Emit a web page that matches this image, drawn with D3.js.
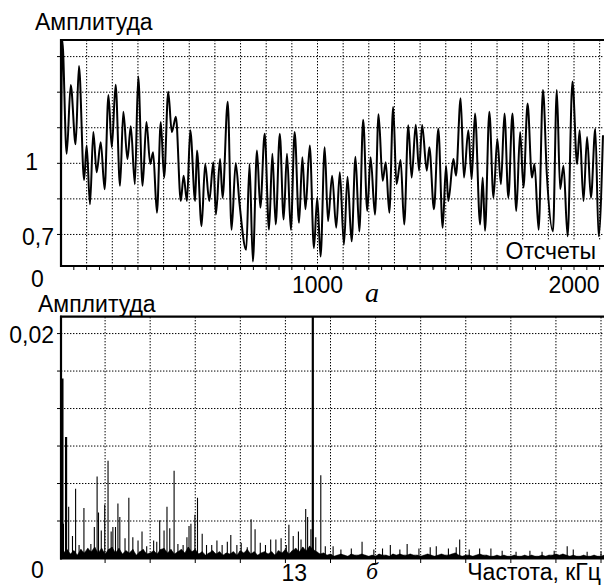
<!DOCTYPE html>
<html>
<head>
<meta charset="utf-8">
<script src="https://cdn.jsdelivr.net/npm/d3@7"></script>
<style>
  body { margin: 0; background: #fff; }
  svg { display: block; }
</style>
</head>
<body>
<svg id="chart" width="604" height="587"></svg>
<script>
// panel (a): signal, read as local peaks / troughs (sample index, amplitude)
const sigSamples = [0, 5, 22, 38, 57, 70, 90, 100, 113, 126, 139, 155, 170, 185, 198, 213, 230, 243, 259, 272,
  288, 301, 318, 333, 348, 359, 374, 389, 402, 418, 432, 448, 467, 478, 491, 504, 523, 530, 548, 562,
  578, 594, 604, 620, 630, 650, 665, 681, 696, 722, 735, 748, 764, 777, 794, 811, 824, 837, 853, 868, 881,
  896, 911, 928, 941, 953, 970, 986, 999, 1012, 1028, 1041, 1057, 1073, 1087, 1103, 1117, 1133, 1148, 1163, 1178,
  1194, 1207, 1224, 1238, 1254, 1266, 1280, 1295, 1308, 1324, 1338, 1354, 1367, 1383, 1396, 1408, 1426, 1436, 1454, 1471,
  1488, 1501, 1510, 1530, 1540, 1558, 1571, 1588, 1601, 1614, 1634, 1644, 1653, 1670, 1686, 1701, 1715, 1729, 1744, 1760,
  1775, 1790, 1803, 1819, 1836, 1846, 1862, 1879, 1894, 1918, 1933, 1946, 1959, 1975, 1994, 2012, 2022, 2037, 2051, 2066,
  2083, 2096, 2113];
const sigValues = [1.04, 1.52, 1.04, 1.33, 1.08, 1.41, 0.93, 1.075, 0.827, 1.132, 0.962, 1.089, 0.891, 1.288, 1.068, 1.331, 0.905, 1.217, 1.018, 1.156,
  0.912, 1.366, 0.905, 1.174, 0.997, 1.047, 0.792, 1.174, 0.94, 1.302, 1.132, 1.196, 0.841, 0.948, 0.841, 1.139, 0.841, 1.054, 0.735, 0.997,
  0.841, 1.004, 0.784, 1.018, 0.855, 1.26, 0.72, 1.0, 0.83, 0.635, 0.997, 0.586, 1.054, 0.813, 1.125, 0.72, 1.04, 0.742, 1.125, 0.763, 1.04,
  0.72, 1.132, 0.749, 1.026, 0.806, 1.075, 0.643, 0.855, 0.607, 1.068, 0.756, 0.948, 0.728, 0.962, 0.657, 0.943, 0.671, 1.028, 0.713, 1.184,
  0.799, 1.026, 0.784, 1.207, 0.926, 1.004, 0.792, 1.238, 0.912, 1.014, 0.742, 1.16, 0.94, 1.163, 0.969, 1.162, 0.969, 1.068, 0.806, 1.146,
  0.728, 0.99, 0.841, 1.018, 0.948, 1.274, 0.94, 1.139, 0.933, 1.21, 0.742, 0.94, 0.716, 1.217, 0.855, 1.103, 0.912, 1.21, 0.855, 1.21,
  0.799, 1.132, 0.898, 1.252, 0.94, 0.997, 0.72, 1.309, 0.955, 0.713, 1.309, 0.891, 0.99, 0.692, 1.345, 0.997, 1.139, 0.841, 1.111, 0.855,
  1.146, 0.692, 1.118];

const sigXLabels = [1000, 2000];
const sigYLabels = [1, 0.7];
const sigYGrid = [0.7, 0.85, 1, 1.15, 1.3, 1.45];

// panel (b): spectrum — distinct lines (kHz, amplitude)
const specFreq = [0.14, 0.35, 0.2, 0.5, 0.72, 0.9, 1.1, 1.38, 1.78, 1.98, 2.14, 2.22, 2.38, 2.58, 2.77, 2.95, 3.05, 3.2, 3.34, 3.45,
  3.75, 3.97, 4.2, 4.5, 4.73, 5.0, 5.4, 5.58, 5.75, 6.0, 6.17, 6.33, 6.58, 6.8, 7.1, 7.32, 7.44, 7.55, 7.78, 7.93,
  8.2, 8.45, 8.75, 9.05, 9.35, 9.65, 9.85, 10.2, 10.45, 10.8, 11.02, 11.25, 11.55, 11.85, 12.15, 12.45, 12.75, 13.05, 13.2, 13.45,
  13.75, 13.9, 14.17, 14.28, 14.47, 14.58, 14.75, 15.04, 15.3, 15.75, 16.2, 16.8, 17.42, 18.1, 18.6, 19.05, 19.6, 20.02, 20.7, 21.35,
  21.7, 22.4, 22.85, 23.05, 23.6, 24.2, 24.85, 25.5, 26.3, 27.1, 27.8, 28.5, 29.25, 29.6, 30.4, 31.2];
const specAmp = [0.016, 0.0108, 0.0031, 0.0046, 0.002, 0.0062, 0.0012, 0.0045, 0.0013, 0.0028, 0.0073, 0.0041, 0.0025, 0.0048, 0.0087, 0.0024, 0.0028, 0.0028, 0.0049, 0.0037,
  0.0018, 0.0054, 0.0019, 0.0016, 0.0024, 0.0011, 0.0016, 0.0015, 0.0034, 0.0025, 0.0046, 0.0027, 0.0078, 0.0013, 0.0012, 0.0019, 0.0029, 0.0031, 0.0039, 0.0054,
  0.0022, 0.0012, 0.0012, 0.0016, 0.0012, 0.0015, 0.0021, 0.0012, 0.0014, 0.001, 0.0035, 0.0026, 0.0014, 0.0012, 0.0017, 0.0017, 0.0018, 0.0012, 0.003, 0.002,
  0.0024, 0.0017, 0.0044, 0.0037, 0.0026, 0.024, 0.0019, 0.0074, 0.0011, 0.0011, 0.0008, 0.0009, 0.0015, 0.0008, 0.0009, 0.0012, 0.0008, 0.0013, 0.0009, 0.001,
  0.0011, 0.0009, 0.001, 0.0017, 0.0008, 0.0009, 0.0009, 0.0007, 0.0006, 0.0007, 0.0006, 0.0007, 0.0011, 0.0008, 0.0006, 0.0006];

// noise floor, one value per 0.2 kHz, in units of 1e-4
const floorStep = 0.2;
const floorE4 = [9, 5, 8, 4, 7, 3, 8, 5, 9, 6,  10, 5, 9, 4, 8, 10, 5, 9, 4, 7,
  5, 8, 3, 6, 8, 4, 5, 7, 4, 8,  9, 5, 8, 4, 6, 8, 5, 10, 6, 8,
  4, 6, 3, 5, 7, 4, 6, 3, 5, 4,  6, 3, 7, 5, 8, 4, 6, 3, 5, 6,
  4, 6, 3, 7, 5, 8, 4, 7, 9, 6,  10, 7, 11, 8, 6, 4, 5, 3, 4, 2,
  3, 4, 3, 2, 4, 3, 3, 4, 3, 2,  3, 2, 4, 3, 3, 2, 4, 3, 4, 3,
  3, 4, 3, 3, 2, 3, 4, 3, 2, 3,  4, 3, 3, 4, 5, 3, 2, 3, 3, 2,
  3, 4, 3, 3, 2, 2, 3, 2, 3, 2,  2, 3, 2, 2, 3, 2, 3, 2, 2, 3,
  2, 3, 3, 4, 3, 4, 3, 2, 3, 2,  2, 3, 2, 2, 3, 2, 2, 3, 2, 2];

const specXLabels = [13];
const specYLabels = [0.02];
const specGridStep = 2.6;   // kHz between vertical grid lines

const svg = d3.select('#chart');
const font = '"Liberation Sans", Arial, sans-serif';
const serif = '"Liberation Serif", "Times New Roman", serif';
const fs = 23;

function dotted(sel) {
  return sel.attr('stroke', '#000').attr('stroke-width', 1).attr('stroke-dasharray', '1.4,1.6');
}

// ---------- panel (a) ----------
const ax = d3.scaleLinear().domain([0, 2200]).range([61, 625.3]);
const ay = d3.scaleLinear().domain([0.567, 1.52]).range([266, 40]);
const a = svg.append('g');

a.append('clipPath').attr('id', 'clipA')
  .append('rect').attr('x', 61).attr('y', 40).attr('width', 560).attr('height', 226);

a.append('g').selectAll('line').data(d3.range(100, 2201, 100)).join('line')
  .attr('x1', d => ax(d)).attr('x2', d => ax(d)).attr('y1', 40).attr('y2', 266)
  .call(dotted);
a.append('g').selectAll('line').data(sigYGrid).join('line')
  .attr('x1', 61).attr('x2', 604).attr('y1', d => ay(d)).attr('y2', d => ay(d))
  .call(dotted);

// minor ticks
a.append('g').selectAll('line').data(d3.range(50, 2201, 50)).join('line')
  .attr('x1', d => ax(d)).attr('x2', d => ax(d)).attr('y1', 266).attr('y2', 270)
  .attr('stroke', '#000').attr('stroke-width', 1);
a.append('g').selectAll('line').data(sigYGrid).join('line')
  .attr('x1', 57).attr('x2', 61).attr('y1', d => ay(d)).attr('y2', d => ay(d))
  .attr('stroke', '#000').attr('stroke-width', 1);

const sig = sigSamples.map((s, i) => [s, sigValues[i]]);
a.append('path').datum(sig)
  .attr('clip-path', 'url(#clipA)')
  .attr('fill', 'none').attr('stroke', '#000').attr('stroke-width', 2)
  .attr('stroke-linejoin', 'round')
  .attr('d', d3.line().x(d => ax(d[0])).y(d => ay(d[1])).curve(d3.curveMonotoneX));

// frame
a.append('line').attr('x1', 60).attr('x2', 604).attr('y1', 40).attr('y2', 40).attr('stroke', '#000').attr('stroke-width', 2.2);
a.append('line').attr('x1', 61).attr('x2', 61).attr('y1', 39).attr('y2', 267).attr('stroke', '#000').attr('stroke-width', 2.2);
a.append('line').attr('x1', 60).attr('x2', 604).attr('y1', 266).attr('y2', 266).attr('stroke', '#000').attr('stroke-width', 2.2);

// texts
const txt = (g, x, y, s, anchor) => g.append('text').attr('x', x).attr('y', y).text(s)
  .attr('font-family', font).attr('font-size', fs).attr('text-anchor', anchor || 'start').attr('fill', '#000');

txt(a, 35, 30, 'Амплитуда');
a.append('g').selectAll('text').data(sigYLabels).join('text')
  .attr('x', d => d === 1 ? 38 : 54).attr('y', d => ay(d) + (d === 1 ? 7 : 11))
  .attr('text-anchor', 'end').attr('font-family', font).attr('font-size', fs)
  .text(d => String(d).replace('.', ','));
txt(a, 37.5, 287, '0', 'middle');
a.append('g').selectAll('text').data(sigXLabels).join('text')
  .attr('x', d => ax(d)).attr('y', 293)
  .attr('text-anchor', 'middle').attr('font-family', font).attr('font-size', fs)
  .text(d => d);
a.append('rect').attr('x', 503).attr('y', 240).attr('width', 101).attr('height', 24).attr('fill', '#fff');
txt(a, 596, 259, 'Отсчеты', 'end');
a.append('text').attr('x', 372).attr('y', 302).text('а')
  .attr('font-family', serif).attr('font-style', 'italic')
  .attr('font-size', 28).attr('text-anchor', 'middle');

// ---------- panel (b) ----------
const bx = d3.scaleLinear().domain([0, 32]).range([60, 60 + 32 * 17.34]);
const by = d3.scaleLinear().domain([0, 0.0215]).range([558.5, 316.7]);
const b = svg.append('g');

b.append('clipPath').attr('id', 'clipB')
  .append('rect').attr('x', 60).attr('y', 316.7).attr('width', 560).attr('height', 242);

const vGrid = d3.range(1, 13).map(k => k * specGridStep);
const hGrid = d3.range(1, 7).map(k => k * 0.02 / 6);
b.append('g').selectAll('line').data(vGrid).join('line')
  .attr('x1', d => bx(d)).attr('x2', d => bx(d)).attr('y1', 317).attr('y2', 558)
  .call(dotted);
b.append('g').selectAll('line').data(hGrid).join('line')
  .attr('x1', 61).attr('x2', 604).attr('y1', d => by(d)).attr('y2', d => by(d))
  .call(dotted);
b.append('g').selectAll('line').data(vGrid).join('line')
  .attr('x1', d => bx(d)).attr('x2', d => bx(d)).attr('y1', 558.5).attr('y2', 563)
  .attr('stroke', '#000').attr('stroke-width', 1);
b.append('g').selectAll('line').data(hGrid).join('line')
  .attr('x1', 57).attr('x2', 61).attr('y1', d => by(d)).attr('y2', d => by(d))
  .attr('stroke', '#000').attr('stroke-width', 1);

// noise floor: jagged area plus a short line per bin
const floor = floorE4.map((v, i) => [i * floorStep, v * 1e-4]);
b.append('path').datum(floor)
  .attr('clip-path', 'url(#clipB)')
  .attr('fill', '#000').attr('stroke', '#000').attr('stroke-width', 0.6)
  .attr('d', d3.area().x(d => bx(d[0])).y0(by(0)).y1(d => by(d[1])));
b.append('g').attr('clip-path', 'url(#clipB)')
  .selectAll('line').data(floor).join('line')
  .attr('x1', d => bx(d[0])).attr('x2', d => bx(d[0]))
  .attr('y1', by(0)).attr('y2', d => by(d[1]))
  .attr('stroke', '#000').attr('stroke-width', 1.6);

const spikes = specFreq.map((f, i) => [f, specAmp[i]]);
b.append('g').attr('clip-path', 'url(#clipB)')
  .selectAll('line').data(spikes).join('line')
  .attr('x1', d => bx(d[0])).attr('x2', d => bx(d[0]))
  .attr('y1', by(0)).attr('y2', d => by(d[1]))
  .attr('stroke', '#000')
  .attr('stroke-width', d => d[1] > 0.01 ? 2.2 : 1.1);

b.append('line').attr('x1', 60).attr('x2', 604).attr('y1', 316.7).attr('y2', 316.7).attr('stroke', '#000').attr('stroke-width', 2.2);
b.append('line').attr('x1', 61).attr('x2', 61).attr('y1', 315.7).attr('y2', 559.5).attr('stroke', '#000').attr('stroke-width', 2.2);
b.append('line').attr('x1', 60).attr('x2', 604).attr('y1', 558).attr('y2', 558).attr('stroke', '#000').attr('stroke-width', 3);

txt(b, 38, 311.5, 'Амплитуда');
b.append('g').selectAll('text').data(specYLabels).join('text')
  .attr('x', 54).attr('y', d => by(d) + 9)
  .attr('text-anchor', 'end').attr('font-family', font).attr('font-size', fs)
  .text(d => String(d).replace('.', ','));
txt(b, 37.5, 578, '0', 'middle');
b.append('g').selectAll('text').data(specXLabels).join('text')
  .attr('x', d => bx(d) - 4).attr('y', 581)
  .attr('font-family', font).attr('font-size', fs)
  .text(d => d);
txt(b, 601, 580, 'Частота, кГц', 'end');
b.append('text').attr('x', 372).attr('y', 579).text('б')
  .attr('font-family', serif).attr('font-style', 'italic')
  .attr('font-size', 24).attr('text-anchor', 'middle');
</script>
</body>
</html>
